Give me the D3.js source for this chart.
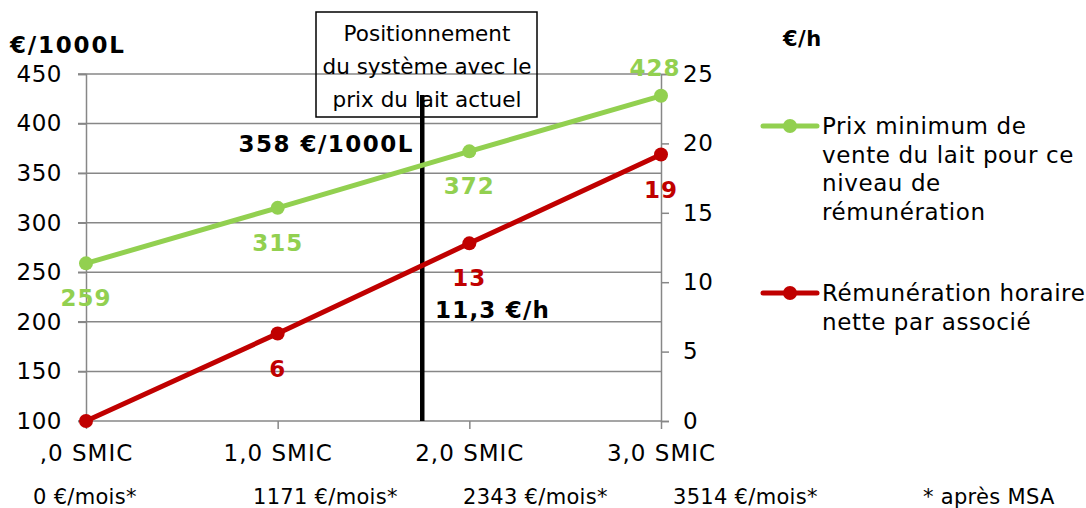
<!DOCTYPE html>
<html>
<head>
<meta charset="utf-8">
<script src="https://cdn.jsdelivr.net/npm/d3@7"></script>
<style>
  body { margin: 0; background: #fff; }
  svg { display: block; font-family: "DejaVu Sans", Verdana, sans-serif; }
</style>
</head>
<body>
<div id="chart"></div>
<script>
// data
var categories = [",0 SMIC", "1,0 SMIC", "2,0 SMIC", "3,0 SMIC"];
var prixMin = [259, 315, 372, 428];
var prixLabels = ["259", "315", "372", "428"];
var remuneration = [0, 6.3, 12.8, 19.2];
var remLabels = ["", "6", "13", "19"];
var leftTicks = [100, 150, 200, 250, 300, 350, 400, 450];
var rightTicks = [0, 5, 10, 15, 20, 25];
var moisLabels = ["0 €/mois*", "1171 €/mois*", "2343 €/mois*", "3514 €/mois*", "* après MSA"];
var moisX = [33, 253, 463, 673, 923];
var prixActuel = 358;
var boxLines = ["Positionnement", "du système avec le", "prix du lait actuel"];

var W = 1086, H = 508,
  margin = {top: 74, bottom: 87, left: 86, right: 425},
  green = "#92D050", red = "#C00000", grid = "#878787";

var svg = d3.select("#chart").append("svg")
  .attr("width", W).attr("height", H);

var x = d3.scalePoint().domain(categories).range([margin.left, W - margin.right]);
var yL = d3.scaleLinear().domain([100, 450]).range([H - margin.bottom, margin.top]);
var yR = d3.scaleLinear().domain([0, 25]).range([H - margin.bottom, margin.top]);

// gridlines
svg.append("g").selectAll("line").data(leftTicks).enter().append("line")
  .attr("x1", margin.left - 8).attr("x2", W - margin.right)
  .attr("y1", d => yL(d)).attr("y2", d => yL(d))
  .attr("stroke", grid).attr("stroke-width", 1.5);

// left axis
var gL = svg.append("g").attr("transform", "translate(" + margin.left + ",0)")
  .call(d3.axisLeft(yL).tickValues(leftTicks).tickSize(8).tickPadding(16));
gL.select(".domain").attr("stroke", grid).attr("stroke-width", 1.5);
gL.selectAll(".tick line").attr("stroke", grid).attr("stroke-width", 1.5);
gL.selectAll("text").attr("font-size", 23).attr("letter-spacing", 0.5).attr("fill", "#000").attr("font-family", "DejaVu Sans");

// right axis
var gR = svg.append("g").attr("transform", "translate(" + (W - margin.right) + ",0)")
  .call(d3.axisRight(yR).tickValues(rightTicks).tickSize(8).tickPadding(14));
gR.select(".domain").attr("stroke", grid).attr("stroke-width", 1.5);
gR.selectAll(".tick line").attr("stroke", grid).attr("stroke-width", 1.5);
gR.selectAll("text").attr("font-size", 23).attr("letter-spacing", 0.5).attr("fill", "#000").attr("font-family", "DejaVu Sans");

// x axis
var gX = svg.append("g").attr("transform", "translate(0," + (H - margin.bottom) + ")")
  .call(d3.axisBottom(x).tickSize(8).tickPadding(16));
gX.select(".domain").remove();
gX.selectAll(".tick line").attr("stroke", grid).attr("stroke-width", 1.5);
gX.selectAll("text").attr("font-size", 23).attr("letter-spacing", 1).attr("fill", "#000").attr("font-family", "DejaVu Sans");

// axis titles
svg.append("text").attr("x", 10).attr("y", 53).attr("font-size", 23).attr("letter-spacing", 1.8)
  .attr("font-weight", "bold").text("€/1000L");
svg.append("text").attr("x", 783).attr("y", 46).attr("font-size", 21).attr("letter-spacing", 0.5)
  .attr("font-weight", "bold").text("€/h");

// vertical marker at the current milk price (placed on the green line)
var seg = d3.bisectRight(prixMin, prixActuel) - 1;
var frac = (prixActuel - prixMin[seg]) / (prixMin[seg + 1] - prixMin[seg]);
var xActuel = x(categories[seg]) + frac * x.step();

svg.append("line")
  .attr("x1", xActuel).attr("x2", xActuel)
  .attr("y1", 95).attr("y2", H - margin.bottom)
  .attr("stroke", "#000").attr("stroke-width", 4.5);

// annotation box
svg.append("rect").attr("x", 316).attr("y", 12).attr("width", 221).attr("height", 105)
  .attr("fill", "none").attr("stroke", "#000").attr("stroke-width", 1.5);
svg.append("g").selectAll("text").data(boxLines).enter().append("text")
  .attr("x", 427).attr("y", (d, i) => 41 + i * 33)
  .attr("text-anchor", "middle").attr("font-size", 21.5).text(d => d);

// lines
var lineL = d3.line().x((d, i) => x(categories[i])).y(d => yL(d));
var lineR = d3.line().x((d, i) => x(categories[i])).y(d => yR(d));

svg.append("path").datum(prixMin).attr("d", lineL)
  .attr("fill", "none").attr("stroke", green).attr("stroke-width", 5);
svg.append("path").datum(remuneration).attr("d", lineR)
  .attr("fill", "none").attr("stroke", red).attr("stroke-width", 5);

svg.append("g").selectAll("circle").data(prixMin).enter().append("circle")
  .attr("cx", (d, i) => x(categories[i])).attr("cy", d => yL(d)).attr("r", 7).attr("fill", green);
svg.append("g").selectAll("circle").data(remuneration).enter().append("circle")
  .attr("cx", (d, i) => x(categories[i])).attr("cy", d => yR(d)).attr("r", 7).attr("fill", red);

// data labels
svg.append("g").selectAll("text").data(prixMin).enter().append("text")
  .attr("x", (d, i) => x(categories[i]) + (i == 3 ? -6 : 0))
  .attr("y", (d, i) => yL(d) + (i == 3 ? -20 : 43))
  .attr("text-anchor", "middle").attr("font-size", 23).attr("letter-spacing", 1)
  .attr("font-weight", "bold").attr("fill", green).text((d, i) => prixLabels[i]);
svg.append("g").selectAll("text").data(remuneration).enter().append("text")
  .attr("x", (d, i) => x(categories[i]))
  .attr("y", d => yR(d) + 43)
  .attr("text-anchor", "middle").attr("font-size", 23).attr("letter-spacing", 1)
  .attr("font-weight", "bold").attr("fill", red).text((d, i) => remLabels[i]);

svg.append("text").attr("x", 414).attr("y", 152).attr("text-anchor", "end")
  .attr("font-size", 23).attr("letter-spacing", 1.5).attr("font-weight", "bold")
  .text(prixActuel + " €/1000L");
svg.append("text").attr("x", 435).attr("y", 318)
  .attr("font-size", 23).attr("letter-spacing", 1.2).attr("font-weight", "bold").text("11,3 €/h");

// legend
var legend = [
  {color: green, y: 126, lines: ["Prix minimum de", "vente du lait pour ce", "niveau de", "rémunération"]},
  {color: red, y: 293, lines: ["Rémunération horaire", "nette par associé"]}
];
legend.forEach(function(l) {
  svg.append("line").attr("x1", 763).attr("x2", 817).attr("y1", l.y).attr("y2", l.y)
    .attr("stroke", l.color).attr("stroke-width", 5).attr("stroke-linecap", "round");
  svg.append("circle").attr("cx", 790).attr("cy", l.y).attr("r", 7).attr("fill", l.color);
  svg.append("g").selectAll("text").data(l.lines).enter().append("text")
    .attr("x", 822).attr("y", (d, i) => l.y + 8 + i * 28.5)
    .attr("font-size", 23).attr("letter-spacing", 0.6).text(d => d);
});

// bottom labels
svg.append("g").selectAll("text").data(moisLabels).enter().append("text")
  .attr("x", (d, i) => moisX[i]).attr("y", 504)
  .attr("font-size", 21).attr("letter-spacing", 0.3).text(d => d);
</script>
</body>
</html>
